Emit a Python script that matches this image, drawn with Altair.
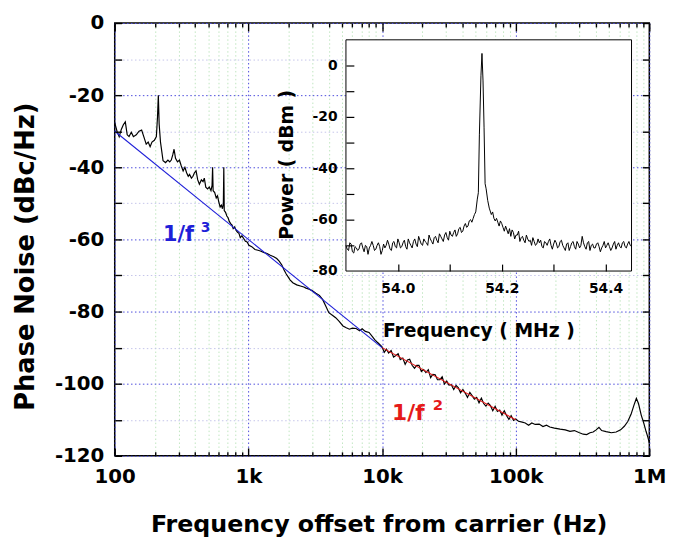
import altair as alt
import pandas as pd

# ---------------- main phase-noise trace (Hz, dBc/Hz) ----------------
pn_freq = [100, 104, 108, 112, 116, 120, 124, 128, 133, 138, 145, 152, 159, 165, 172, 178, 184, 190, 198, 205,
           209, 212, 215, 220, 230, 240, 250, 258, 265, 272, 278, 285, 295, 305, 314, 325, 335, 345, 355, 363,
           375, 385, 395, 406, 418, 430, 445, 458, 468, 480, 495, 510, 525, 535, 540, 545, 560, 575, 588, 600,
           615, 628, 640, 650, 655, 660, 675, 690, 705, 720, 737, 755, 770, 790, 810, 830, 850, 870, 895, 925,
           950, 979, 1010, 1060, 1120, 1180, 1230, 1300, 1380, 1460, 1550, 1630, 1700, 1780, 1850, 1920, 2000,
           2050, 2150, 2300, 2450, 2600, 2700, 2850, 3000, 3200, 3400, 3600, 3800, 4000, 4250, 4500, 4800, 5100,
           5400, 5700, 6000, 6400, 6800, 7100, 7500, 8000, 8500, 8900, 9400,
           10000, 10400, 10800, 11200, 11700, 12200, 12700, 13200, 13700, 14300, 14900, 15500, 16100, 16800,
           17500, 18200, 18900, 19700, 20500, 21300, 22200, 23100, 24000, 25000, 26000, 27100, 28200, 29300,
           30500, 31700, 33000, 34400, 35800, 37200, 38700, 40300, 41900, 43600, 45400, 47200, 49100, 51100,
           53200, 55400, 57600, 59900, 62300, 64800, 67400, 70200, 73000, 76000, 79000, 82200, 85600, 89000,
           92600, 96400, 100000,
           105000, 110000, 118000, 125000, 132000, 140000, 150000, 160000, 170000, 180000, 195000, 215000,
           235000, 255000, 275000, 300000, 320000, 340000, 360000, 380000, 400000, 420000, 440000, 475000,
           520000, 565000, 610000, 650000, 690000, 730000, 770000, 800000, 830000, 870000, 910000, 945000,
           975000, 1000000]
pn_db = [-27.6, -30, -31.5, -29.5, -28.2, -27.4, -31, -31.5, -30.3, -31.5, -31, -30, -29.7, -31.5, -33.6, -33,
         -34.3, -33, -32.5, -31.5, -26, -20, -28, -33, -38.2, -38.7, -38, -38.5, -38, -36.5, -35, -37.5, -38.5,
         -38, -39.5, -41, -40, -41.5, -42.5, -42, -43, -42.5, -41.5, -41, -43.5, -44.7, -43.5, -44, -43, -45.5,
         -46, -45.5, -46.5, -45, -40, -46.5, -47, -48.5, -47.9, -49.5, -51, -50.5, -51.5, -50, -40, -52, -52.5,
         -53.5, -54, -55, -55.6, -56, -57, -56.5, -57.5, -58, -58.3, -59.5, -59, -59.8, -60.5, -60.7, -61.6, -62,
         -62.8, -63, -63.2, -63.6, -63.9, -64.4, -64.8, -65.3, -66, -67.1, -68.5, -69.6, -70.6, -71.2, -72,
         -72.6, -72.9, -73.2, -73.5, -73.8, -74.2, -74.9, -75.5, -76.7, -78.5, -80.3, -81, -81.7, -82.8, -84,
         -84.5, -84.9, -84.6, -84.7, -85.3, -84.8, -85.5, -85.8, -87, -88, -88.8,
         -89.8, -91.3, -90.4, -91.5, -90.8, -92.6, -92.2, -91.7, -93.3, -92.9, -94.6, -93.4, -93.2, -94.9,
         -95.7, -94.9, -94.9, -96.6, -96.1, -96.9, -96.1, -98.3, -97.4, -97.5, -98.9, -98.9, -98.1, -100.1,
         -99.3, -100.4, -100.3, -101.6, -100.5, -101.1, -102.5, -101.6, -102.6, -103.8, -102.4, -103.3,
         -104.3, -103.8, -105.3, -104.0, -105.5, -106.2, -105.4, -106.1, -107.5, -106.3, -107.7, -107.3,
         -108.7, -107.5, -108.9, -109.9, -108.9, -110.2, -109.8,
         -110.4, -110.6, -110.9, -111.5, -110.9, -111.3, -111.2, -111.9, -111.5, -112.0, -112.3, -112.6,
         -112.8, -113.2, -113.0, -113.6, -114.0, -114.1, -113.6, -113.4, -112.8, -112.1, -113.0, -113.3,
         -113.6, -113.4, -112.8, -111.8, -110.5, -108.5, -105.8, -104.1, -105.5, -108.7, -111.0, -113.2,
         -114.8, -116.4]

# fitted slopes
fit3_freq = [100, 10000]
fit3_db = [-30, -90]
fit2_freq = [10000, 100000]
fit2_db = [-90, -110]

# ---------------- inset spectrum (MHz, dBm) ----------------
sp_freq_left = [53.9000, 53.9025, 53.9050, 53.9075, 53.9100, 53.9125, 53.9150, 53.9175, 53.9200, 53.9225,
                53.9250, 53.9275, 53.9300, 53.9325, 53.9350, 53.9375, 53.9400, 53.9425, 53.9450, 53.9475,
                53.9500, 53.9525, 53.9550, 53.9575, 53.9600, 53.9625, 53.9650, 53.9675, 53.9700, 53.9725,
                53.9750, 53.9775, 53.9800, 53.9825, 53.9850, 53.9875, 53.9900, 53.9925, 53.9950, 53.9975,
                54.0000, 54.0025, 54.0050, 54.0075, 54.0100, 54.0125, 54.0150, 54.0175, 54.0200, 54.0225,
                54.0250, 54.0275, 54.0300, 54.0325, 54.0350, 54.0375, 54.0400, 54.0425, 54.0450, 54.0475,
                54.0500, 54.0525, 54.0550, 54.0575, 54.0600, 54.0625, 54.0650, 54.0675, 54.0700, 54.0725,
                54.0750, 54.0775, 54.0800, 54.0825, 54.0850, 54.0875, 54.0900, 54.0925, 54.0950, 54.0975,
                54.1000, 54.1025, 54.1050, 54.1075, 54.1100, 54.1125, 54.1150, 54.1175, 54.1200, 54.1225,
                54.1250, 54.1275, 54.1300, 54.1325, 54.1350, 54.1375, 54.1400, 54.1425, 54.1450, 54.1475,
                54.1500]
sp_dbm_left = [-70, -71.5, -72, -69, -69.5, -72.5, -73, -70.5, -71, -72,
               -71.5, -69.5, -69, -71, -72.5, -70, -70.5, -73.5, -71, -70,
               -68.5, -70, -72, -71.5, -70, -69, -70.5, -73.5, -72, -69.5,
               -71, -70, -68, -69.5, -71.5, -72, -69, -68.5, -70.5, -71,
               -67.5, -69, -71, -70.5, -69, -68, -70.5, -71.5, -67.5, -69,
               -70, -71, -68.5, -67.5, -69.5, -70.5, -66.5, -68, -69.5, -70,
               -67.5, -68.5, -69, -70, -66, -67.5, -68.5, -69.5, -67, -66.5,
               -68, -69, -65.5, -66.5, -67.5, -68.5, -66, -65, -67, -68,
               -64.5, -66, -66.5, -65, -64, -66.5, -65.5, -63.5, -63, -65,
               -64.5, -62.5, -61.5, -63, -62.5, -60.5, -60, -61, -59.5, -58,
               -57]
sp_freq_peak = [54.153, 54.155, 54.157, 54.160, 54.162, 54.164, 54.166, 54.168, 54.170, 54.173, 54.176]
sp_dbm_peak = [-52, -49.5, -27, -4, 4.7, -6, -24, -46, -48, -52.5, -55.5]
sp_freq_right = [54.1800, 54.1825, 54.1850, 54.1875, 54.1900, 54.1925, 54.1950, 54.1975, 54.2000, 54.2025,
                 54.2050, 54.2075, 54.2100, 54.2125, 54.2150, 54.2175, 54.2200, 54.2225, 54.2250, 54.2275,
                 54.2300, 54.2325, 54.2350, 54.2375, 54.2400, 54.2425, 54.2450, 54.2475, 54.2500, 54.2525,
                 54.2550, 54.2575, 54.2600, 54.2625, 54.2650, 54.2675, 54.2700, 54.2725, 54.2750, 54.2775,
                 54.2800, 54.2825, 54.2850, 54.2875, 54.2900, 54.2925, 54.2950, 54.2975, 54.3000, 54.3025,
                 54.3050, 54.3075, 54.3100, 54.3125, 54.3150, 54.3175, 54.3200, 54.3225, 54.3250, 54.3275,
                 54.3300, 54.3325, 54.3350, 54.3375, 54.3400, 54.3425, 54.3450, 54.3475, 54.3500, 54.3525,
                 54.3550, 54.3575, 54.3600, 54.3625, 54.3650, 54.3675, 54.3700, 54.3725, 54.3750, 54.3775,
                 54.3800, 54.3825, 54.3850, 54.3875, 54.3900, 54.3925, 54.3950, 54.3975, 54.4000, 54.4025,
                 54.4050, 54.4075, 54.4100, 54.4125, 54.4150, 54.4175, 54.4200, 54.4225, 54.4250, 54.4275,
                 54.4300, 54.4325, 54.4350, 54.4375, 54.4400, 54.4425, 54.4450, 54.4475, 54.4500]
sp_dbm_right = [-58, -57, -59.5, -60.5, -59.5, -61, -62.5, -60.5, -61.5, -63,
                -64.5, -62.5, -64, -65.5, -63.5, -66.5, -64, -65, -67.5, -66,
                -66, -64.5, -68.5, -67, -66.5, -68, -69, -66, -67.5, -68.5,
                -68, -70, -67, -68.5, -70, -69.5, -67.5, -69, -68, -70.5,
                -71, -68.5, -69, -70, -68.5, -67.5, -70, -71.5, -69.5, -68,
                -69, -71, -70.5, -68.5, -68, -70, -71, -72, -69.5, -69,
                -72, -70.5, -69, -68.5, -70.5, -71.5, -68.5, -69.5, -71, -70,
                -66.5, -69, -70.5, -71.5, -69, -68.5, -72, -70, -69.5, -71,
                -71, -69.5, -69, -70.5, -72.5, -71, -70, -68.5, -71, -70,
                -69, -70.5, -72, -71, -69.5, -68.5, -71.5, -70, -69, -70.5,
                -71, -69, -68.5, -70.5, -71, -69.5, -68.5, -70, -70.5]

# ---------------- axes values ----------------
x_major = [100, 1000, 10000, 100000, 1000000]
x_minor = [200, 300, 400, 500, 600, 700, 800, 900,
           2000, 3000, 4000, 5000, 6000, 7000, 8000, 9000,
           20000, 30000, 40000, 50000, 60000, 70000, 80000, 90000,
           200000, 300000, 400000, 500000, 600000, 700000, 800000, 900000]
y_major = [-120, -100, -80, -60, -40, -20, 0]
y_minor = [-110, -90, -70, -50, -30, -10]
y_ticks = [-120, -110, -100, -90, -80, -70, -60, -50, -40, -30, -20, -10, 0]
in_x_labels = [54.0, 54.2, 54.4]
in_x_ticks = [54.0, 54.1, 54.2, 54.3, 54.4]
in_y_labels = [0, -20, -40, -60, -80]
in_y_ticks = [0, -10, -20, -30, -40, -50, -60, -70]

# slope annotation texts
lab3_pos = (230, -60.3)
sup3_pos = (440, -58.0)
lab2_pos = (11900, -110.0)
sup2_pos = (24000, -107.3)

W, H = 541, 438
FONT = "DejaVu Sans"
BLUE = "#1f1fd8"
RED = "#e51a1a"

main_df = pd.DataFrame({"f": pn_freq, "db": pn_db})
fit3_df = pd.DataFrame({"f": fit3_freq, "db": fit3_db})
fit2_df = pd.DataFrame({"f": fit2_freq, "db": fit2_db})
sp_df = pd.DataFrame({"fm": sp_freq_left + sp_freq_peak + sp_freq_right,
                      "p": sp_dbm_left + sp_dbm_peak + sp_dbm_right})
box_df = pd.DataFrame({"x": [53.9], "x2": [54.45], "y": [-80], "y2": [10]})


def txt_df(pos, s):
    return pd.DataFrame({"f": [pos[0]], "db": [pos[1]], "t": [s]})


xs = alt.Scale(type="log", domain=[100, 1000000], nice=False)
ys = alt.Scale(domain=[-120, 0], nice=False, zero=False)
ixs = alt.Scale(domain=[53.9, 54.45], range=[234, 523], nice=False, zero=False)
iys = alt.Scale(domain=[-80, 10], range=[251, 17], nice=False, zero=False)


def ax(**kw):
    base = dict(title=None, domain=False, grid=False, ticks=False, labels=False)
    base.update(kw)
    return alt.Axis(**base)


tick_style = dict(ticks=True, tickColor="black", tickWidth=1.4, zindex=1)
lab_style = dict(labels=True, labelFont=FONT, labelFontWeight="bold", labelColor="black",
                 labelFlush=False, labelOverlap=False, tickSize=0)

x_labels_axis = ax(orient="bottom", values=x_major, labelFontSize=20, labelPadding=11,
                   labelExpr="datum.value >= 990000 ? '1M' : datum.value >= 99000 ? '100k' : "
                             "datum.value >= 9900 ? '10k' : datum.value >= 990 ? '1k' : '100'",
                   grid=True, gridColor="#4b4bdc", gridDash=[1.5, 2.5], gridWidth=1,
                   title="Frequency offset from carrier (Hz)", titleFont=FONT, titleFontSize=24,
                   titleFontWeight="bold", titleColor="black", titleX=267, titleY=77,
                   titleBaseline="alphabetic", titleAlign="center", zindex=0, **lab_style)
y_labels_axis = ax(orient="left", values=y_major, labelFontSize=20, labelPadding=11,
                   labelExpr="'' + datum.value",
                   grid=True, gridColor="#4b4bdc", gridDash=[1.5, 2.5], gridWidth=1,
                   title="Phase Noise (dBc/Hz)", titleFont=FONT, titleFontSize=26,
                   titleFontWeight="bold", titleColor="black", titleX=-90, titleY=236,
                   titleAngle=270, titleBaseline="middle", titleAlign="center", zindex=0, **lab_style)

curve = alt.Chart(main_df).mark_line(color="black", strokeWidth=1.2).encode(
    x=alt.X("f:Q", scale=xs, axis=x_labels_axis),
    y=alt.Y("db:Q", scale=ys, axis=y_labels_axis),
)

fit3 = alt.Chart(fit3_df).mark_line(color=BLUE, strokeWidth=1.1).encode(
    x=alt.X("f:Q", scale=xs, axis=ax(orient="bottom", values=x_major, tickSize=8, offset=-8, **tick_style)),
    y=alt.Y("db:Q", scale=ys, axis=ax(orient="left", values=y_ticks, tickSize=7, offset=-7, **tick_style)),
)

fit2 = alt.Chart(fit2_df).mark_line(color=RED, strokeWidth=1.1).encode(
    x=alt.X("f:Q", scale=xs, axis=ax(orient="bottom", values=x_minor, tickSize=4, offset=-4, **tick_style)),
    y=alt.Y("db:Q", scale=ys, axis=ax(orient="right", values=y_ticks, tickSize=7, offset=-7, **tick_style)),
)

t3 = alt.Chart(txt_df(lab3_pos, "1/f")).mark_text(
    align="left", baseline="alphabetic", font=FONT, fontWeight="bold", fontSize=21, color=BLUE).encode(
    x=alt.X("f:Q", scale=xs, axis=ax(orient="top", values=x_major, tickSize=8, offset=-8, **tick_style)),
    y=alt.Y("db:Q", scale=ys, axis=ax(orient="left", values=y_minor, grid=True, gridColor="#c4c4ea",
                                     gridDash=[1.5, 2.5], gridWidth=1, zindex=0)),
    text="t:N",
)
s3 = alt.Chart(txt_df(sup3_pos, "3")).mark_text(
    align="left", baseline="alphabetic", font=FONT, fontWeight="bold", fontSize=14, color=BLUE).encode(
    x=alt.X("f:Q", scale=xs, axis=ax(orient="top", values=x_minor, tickSize=4, offset=-4, **tick_style)),
    y=alt.Y("db:Q", scale=ys, axis=None),
    text="t:N",
)
t2 = alt.Chart(txt_df(lab2_pos, "1/f")).mark_text(
    align="left", baseline="alphabetic", font=FONT, fontWeight="bold", fontSize=22, color=RED).encode(
    x=alt.X("f:Q", scale=xs, axis=ax(orient="bottom", values=x_minor, grid=True, gridColor="#bfe6bf",
                                     gridDash=[1.5, 2.5], gridWidth=1, zindex=0)),
    y=alt.Y("db:Q", scale=ys, axis=None),
    text="t:N",
)
s2 = alt.Chart(txt_df(sup2_pos, "2")).mark_text(
    align="left", baseline="alphabetic", font=FONT, fontWeight="bold", fontSize=15, color=RED).encode(
    x=alt.X("f:Q", scale=xs, axis=None),
    y=alt.Y("db:Q", scale=ys, axis=None),
    text="t:N",
)

# ---------------- inset ----------------
in_lab = dict(labels=True, labelFont=FONT, labelFontWeight="bold", labelColor="black",
              labelFlush=False, labelOverlap=False, labelFontSize=14, tickSize=0, zindex=1)
box = alt.Chart(box_df).mark_rect(fill="white", stroke="black", strokeWidth=1).encode(
    x=alt.X("x:Q", scale=ixs, axis=ax(orient="bottom", offset=-187, values=in_x_labels, format=".1f",
                                     labelPadding=11, title="Frequency ( MHz )", titleFont=FONT,
                                     titleFontSize=19, titleFontWeight="bold", titleColor="black",
                                     titleX=368, titleY=66, titleBaseline="alphabetic",
                                     titleAlign="center", **in_lab)),
    x2="x2:Q",
    y=alt.Y("y:Q", scale=iys, axis=ax(orient="left", offset=-234, values=in_y_labels,
                                     labelExpr="'' + datum.value", labelPadding=9,
                                     title="Power ( dBm )", titleFont=FONT, titleFontSize=19,
                                     titleFontWeight="bold", titleColor="black", titleX=-60,
                                     titleY=143, titleAngle=270, titleBaseline="middle",
                                     titleAlign="center", **in_lab)),
    y2="y2:Q",
)
spec = alt.Chart(sp_df).mark_line(color="black", strokeWidth=1).encode(
    x=alt.X("fm:Q", scale=ixs, axis=ax(orient="bottom", offset=-194, values=in_x_ticks, tickSize=7,
                                      ticks=True, tickColor="black", tickWidth=1.2, zindex=1)),
    y=alt.Y("p:Q", scale=iys, axis=ax(orient="left", offset=-242, values=in_y_ticks, tickSize=8,
                                     ticks=True, tickColor="black", tickWidth=1.2, zindex=1)),
)

chart = alt.layer(curve, fit3, fit2, t3, s3, t2, s2, box, spec).resolve_scale(
    x="independent", y="independent"
).properties(
    width=W, height=H,
    autosize=alt.AutoSizeParams(type="none"),
    padding={"left": 108, "top": 12, "right": 26, "bottom": 83},
    background="white",
).configure_view(stroke="black", strokeWidth=1.5)

chart.save("out.html", embed_options={"renderer": "svg", "actions": False})
